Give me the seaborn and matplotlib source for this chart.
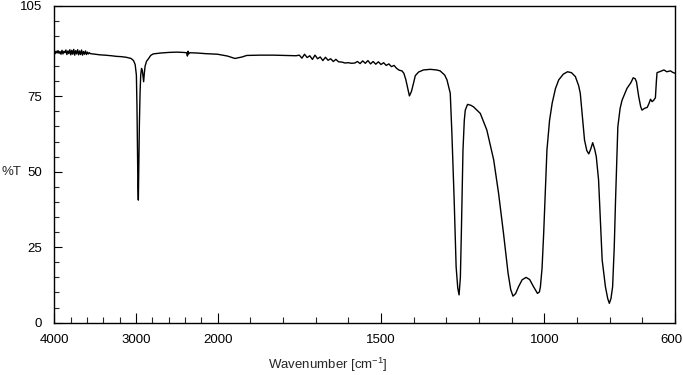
import numpy as np
import pandas as pd
import seaborn as sns
import matplotlib.pyplot as plt
import matplotlib.transforms as mtransforms
from matplotlib.ticker import FixedLocator, NullFormatter

# IR spectrum (wavenumber in cm-1, transmittance in %)
wavenumber = [
    4000, 3990, 3978, 3966, 3954, 3942, 3930, 3918, 3906, 3894, 3882, 3870,
    3858, 3846, 3834, 3822, 3810, 3798, 3786, 3774, 3762, 3750, 3738, 3726,
    3714, 3702, 3690, 3678, 3666, 3654, 3642, 3630, 3618, 3606, 3594, 3582,
    3570, 3558, 3500, 3440, 3380, 3300, 3240, 3180, 3120, 3060, 3030, 3010,
    2995, 2988, 2982, 2976, 2971, 2966, 2958, 2950, 2942, 2932, 2922, 2914,
    2906, 2898, 2888, 2870, 2850, 2820, 2790, 2700, 2600, 2500, 2420, 2380,
    2370, 2362, 2355, 2340, 2250, 2150, 2060, 2000, 1970, 1947, 1925, 1911,
    1870, 1829, 1790, 1760,
    1750, 1742, 1734, 1726, 1718, 1710, 1702, 1694, 1686, 1678, 1670, 1662,
    1654, 1646, 1638, 1630, 1620, 1610, 1600, 1590, 1580, 1572, 1564, 1556,
    1548, 1540, 1532, 1524, 1516, 1508, 1500, 1492, 1484, 1476, 1468, 1460,
    1452, 1444, 1436, 1430, 1424, 1418, 1413, 1407, 1400, 1395, 1385, 1370,
    1349, 1330, 1319, 1305, 1298, 1288, 1283, 1276, 1270, 1265, 1261, 1257,
    1254, 1249, 1245, 1242, 1235, 1225, 1217, 1196, 1176, 1155, 1140, 1125,
    1111, 1103, 1096, 1088, 1079, 1068, 1056, 1045, 1033, 1021, 1015, 1012,
    1007, 1002, 992, 984, 976, 966, 956, 942, 929, 917, 905, 895,
    890, 884, 877, 870, 864, 858, 852, 846, 841, 834, 828, 823,
    813, 806, 801, 796, 791, 786, 782, 775, 768, 762, 747, 735,
    728, 722, 718, 711, 705, 701, 693, 685, 680, 675, 670, 665,
    660, 657, 655, 645, 634, 625, 614, 607, 600,
]
transmittance = [
    89.6, 89.1, 89.9, 89.3, 90.1, 89.2, 89.8, 88.9, 90.2, 89.0, 89.9, 89.4,
    90.3, 88.8, 90.0, 89.1, 90.4, 88.7, 90.2, 88.9, 90.5, 88.6, 90.1, 89.0,
    90.4, 88.7, 90.0, 88.8, 90.3, 88.6, 89.8, 88.9, 90.0, 88.8, 89.6, 89.0,
    89.4, 89.1, 88.9, 88.7, 88.6, 88.4, 88.2, 88.1, 87.9, 87.5, 86.8, 85.5,
    82.0, 72.0, 58.0, 45.0, 40.6, 50.0, 66.0, 76.0, 82.0, 84.2, 83.5, 81.5,
    79.8, 82.5, 85.0, 86.6, 87.3, 88.5, 89.0, 89.3, 89.5, 89.6, 89.5, 89.4,
    88.3, 89.9, 89.0, 89.4, 89.3, 89.1, 89.0, 88.9, 88.3, 87.5, 88.0, 88.5,
    88.6, 88.6, 88.5, 88.4,
    88.6, 87.6, 88.9, 87.8, 88.4, 87.2, 88.6, 87.4, 88.0, 86.8, 87.9, 86.9,
    87.4, 86.5, 87.2, 86.4, 86.3, 86.0, 86.1, 85.9, 86.0, 86.5, 85.8, 86.7,
    85.9, 86.8, 85.7, 86.5, 85.6, 86.4, 85.5, 86.1, 85.2, 85.7, 84.8, 85.2,
    84.2, 83.6, 83.4, 82.6, 80.5, 77.5, 75.1, 76.5, 79.5, 81.8, 83.0, 83.7,
    83.9, 83.7, 83.4, 82.0, 80.4, 76.0, 62.8, 40.6, 18.5, 11.5, 9.2, 15.0,
    29.7, 57.2, 67.0, 70.4, 72.3, 72.0, 71.5, 69.3, 63.8, 53.9, 42.8, 29.6,
    16.4, 11.0, 8.8, 9.6, 11.9, 14.2, 15.0, 14.3, 11.9, 9.7, 10.2, 11.9,
    18.0, 29.6, 57.2, 67.0, 72.7, 77.5, 80.4, 82.3, 83.1, 82.8, 81.5, 78.5,
    76.0, 69.0, 60.5, 57.0, 55.9, 57.5, 59.6, 57.5, 55.0, 47.3, 33.0, 20.8,
    11.9, 8.0, 6.4, 8.0, 11.9, 25.0, 40.6, 64.9, 71.0, 73.7, 77.6, 79.5,
    81.1, 80.8, 79.8, 74.8, 71.5, 70.4, 71.0, 71.3, 72.5, 74.0, 73.2, 73.7,
    74.5, 80.0, 82.8, 83.2, 83.7, 83.1, 83.4, 82.9, 82.6,
]

x_major = [4000, 3000, 2000, 1500, 1000, 600]
x_labels = ['4000', '3000', '2000', '1500', '1000', '600']
x_minor = [3800, 3600, 3400, 3200, 2800, 2600, 2400, 2200,
           1900, 1800, 1700, 1600, 1400, 1300, 1200, 1100, 900, 800, 700]
y_major = [0, 25, 50, 75, 105]
y_minor = [5, 10, 15, 20, 30, 35, 40, 45, 55, 60, 65, 70, 80, 85, 90, 95, 100]

df = pd.DataFrame({'wn': wavenumber, 'T': transmittance})

sns.set_style('ticks')
plt.rcParams['font.family'] = ['Liberation Sans', 'DejaVu Sans']
plt.rcParams['mathtext.fontset'] = 'custom'
plt.rcParams['mathtext.rm'] = 'Liberation Sans'


# wavenumbers above 2000 are compressed 4x, as on the instrument printout
def fwd(x):
    x = np.asarray(x, dtype=float)
    return np.where(x > 2000, 2000 + (x - 2000) / 4.0, x)


def inv(y):
    y = np.asarray(y, dtype=float)
    return np.where(y > 2000, 2000 + (y - 2000) * 4.0, y)


fig = plt.figure(figsize=(6.83, 3.75), dpi=100)
ax = fig.add_axes([0.0795, 0.1395, 0.9088, 0.8455])
ax.set_xscale('function', functions=(fwd, inv))

sns.lineplot(data=df, x='wn', y='T', ax=ax, color='black', linewidth=1.0,
             sort=False, estimator=None)

ax.set_xlim(4000, 600)
ax.set_ylim(0, 105)

ax.xaxis.set_major_locator(FixedLocator(x_major))
ax.set_xticklabels(x_labels)
ax.xaxis.set_minor_locator(FixedLocator(x_minor))
ax.xaxis.set_minor_formatter(NullFormatter())
ax.yaxis.set_major_locator(FixedLocator(y_major))
ax.set_yticklabels([str(v) for v in y_major])
ax.yaxis.set_minor_locator(FixedLocator(y_minor))
ax.yaxis.set_minor_formatter(NullFormatter())

ax.tick_params(axis='x', which='major', direction='in', length=7, width=0.8,
               pad=8, labelsize=9.5, colors='black')
ax.tick_params(axis='x', which='minor', direction='in', length=4, width=0.8)
ax.tick_params(axis='y', which='major', direction='in', length=6, width=0.8,
               pad=9, labelsize=9.5, colors='black')
ax.tick_params(axis='y', which='minor', direction='in', length=3.8, width=0.8)

# keep the last label inside the figure, as on the original
last = ax.get_xticklabels()[-1]
last.set_transform(last.get_transform() +
                   mtransforms.ScaledTranslation(-4 / 100, 0, fig.dpi_scale_trans))

for s in ax.spines.values():
    s.set_visible(True)
    s.set_linewidth(1.0)
    s.set_color('black')

ax.set_xlabel('')
ax.set_ylabel('')
fig.text(1 / 683, 1 - 172 / 375, '%T', ha='left', va='center', fontsize=9.5)
fig.text(328 / 683, 1 - 365 / 375, 'Wavenumber [cm$^{\\mathregular{-1}}$]',
         ha='center', va='center', fontsize=9.5)

fig.savefig('out.png', dpi=100)
plt.close(fig)
